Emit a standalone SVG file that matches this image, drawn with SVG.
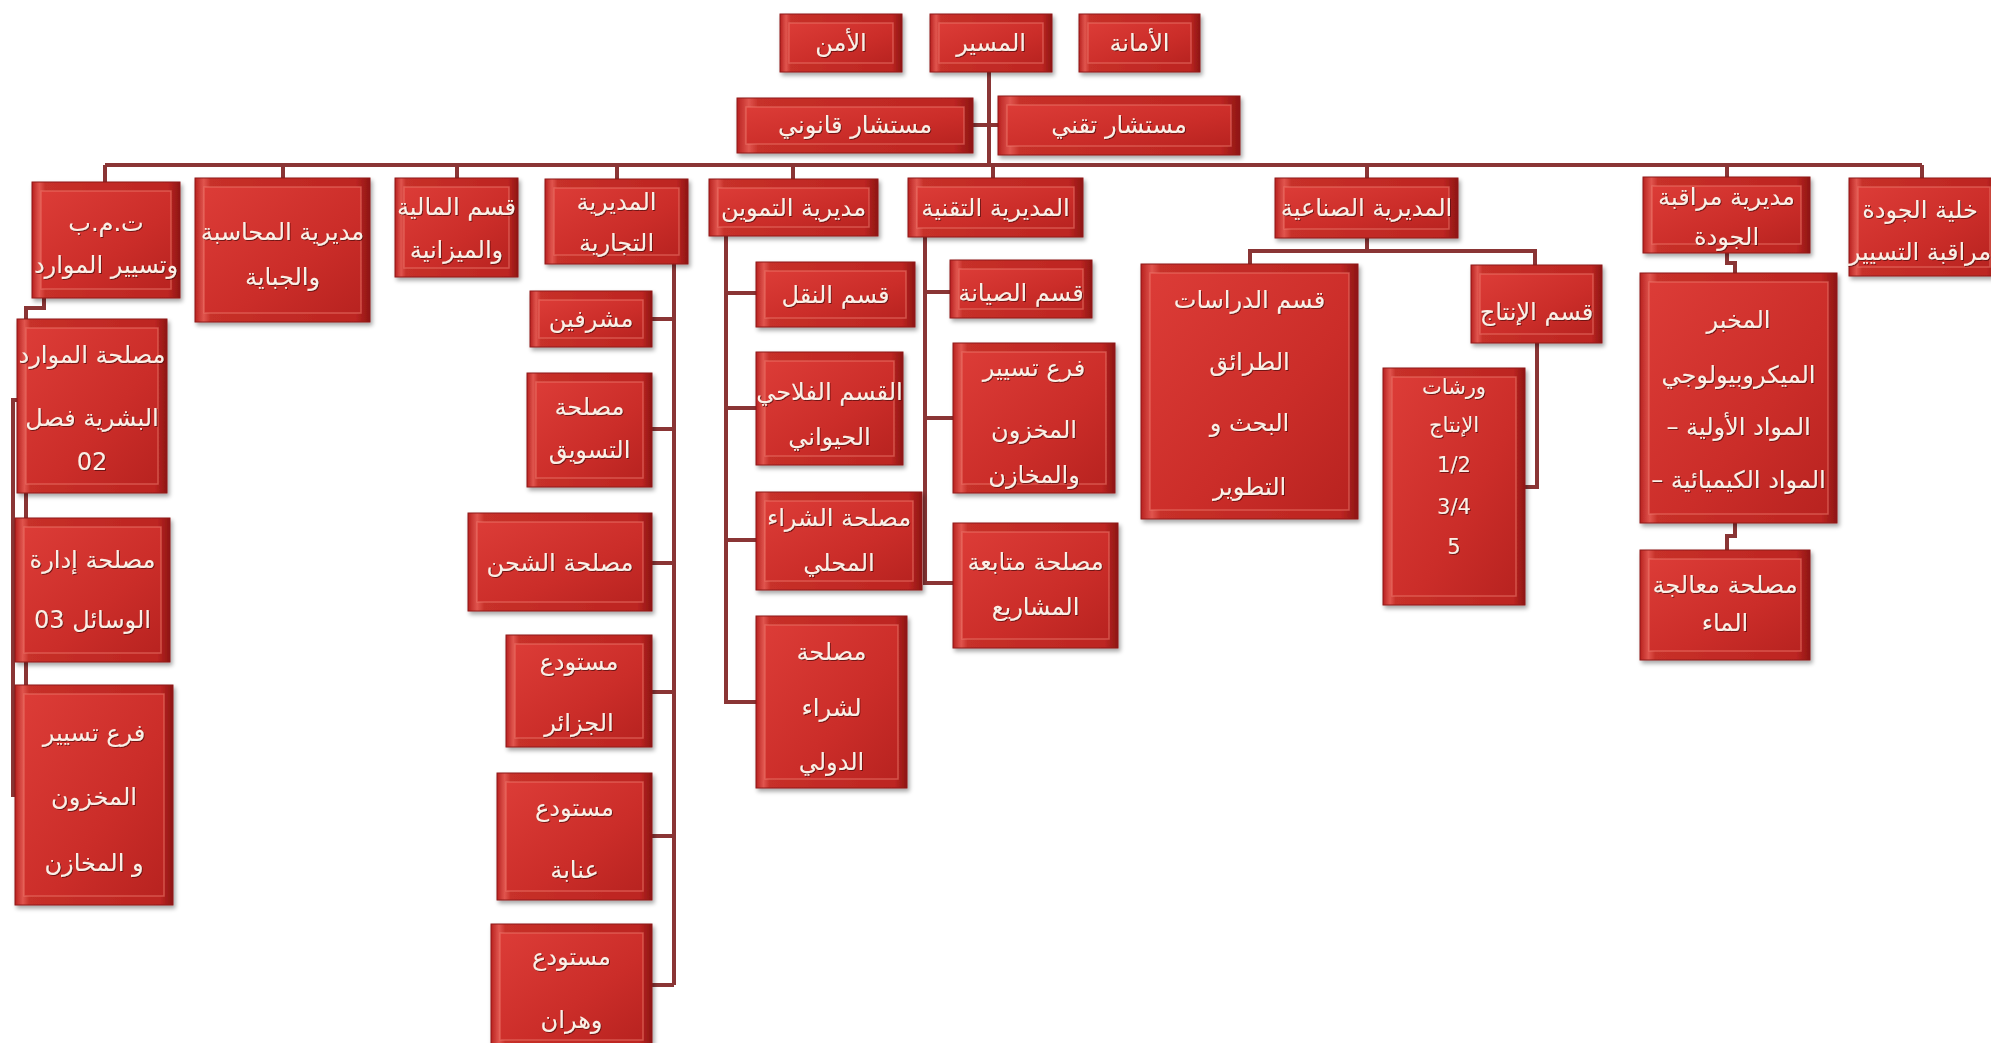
<svg xmlns="http://www.w3.org/2000/svg" width="1991" height="1043" viewBox="0 0 1991 1043">
<defs>
<linearGradient id="gO" x1="0" y1="0" x2="1" y2="0">
<stop offset="0" stop-color="#b8211f"/><stop offset="0.05" stop-color="#e0554e"/><stop offset="0.09" stop-color="#c73029"/><stop offset="0.92" stop-color="#bd2522"/><stop offset="1" stop-color="#8e1614"/>
</linearGradient>
<linearGradient id="gI" x1="0" y1="0" x2="1" y2="1">
<stop offset="0" stop-color="#dc3c37"/><stop offset="0.6" stop-color="#cb2d29"/><stop offset="1" stop-color="#b82320"/>
</linearGradient>
<filter id="sh" x="-10%" y="-10%" width="130%" height="130%">
<feDropShadow dx="2" dy="3" stdDeviation="2" flood-color="#000" flood-opacity="0.35"/>
</filter>
<filter id="ts" x="-5%" y="-20%" width="110%" height="140%">
<feDropShadow dx="1" dy="1" stdDeviation="0.6" flood-color="#5a0a0a" flood-opacity="0.8"/>
</filter>
<style>
.o{fill:url(#gO);stroke:#8e1a18;stroke-width:1;filter:url(#sh)}
.i{fill:url(#gI);stroke:#ec7a70;stroke-width:1.5;stroke-opacity:0.55}
.t{font-family:"DejaVu Sans",sans-serif;font-size:24px;fill:#fbefe6;text-anchor:middle;dominant-baseline:central;filter:url(#ts)}
.s{font-size:21px}
.c{fill:none;stroke:#8a3535;stroke-width:4}
</style>
</defs>
<rect width="1991" height="1043" fill="#ffffff"/>
<g id="connectors">
<path class="c" d="M989,72 V165 M973,125 H998 M105,165 H1922"/>
<path class="c" d="M105,165 V182 M283,165 V178 M457,165 V178 M617,165 V179 M793,165 V179 M993,165 V178 M1367,165 V178 M1727,165 V177 M1922,165 V178"/>
<path class="c" d="M44,298 V308 H26 V690 M26,400 H13 V795 H16 M13,590 H16"/>
<path class="c" d="M674,264 V985 M652,319 H674 M652,429 H674 M652,563 H674 M652,692 H674 M652,836 H674 M652,985 H674"/>
<path class="c" d="M726,236 V702 H756 M726,293 H756 M726,408 H756 M726,540 H756"/>
<path class="c" d="M925,237 V583 H953 M925,292 H950 M925,418 H953"/>
<path class="c" d="M1367,238 V251 M1250,264 V251 H1535 V265 M1537,343 V487 H1525"/>
<path class="c" d="M1727,253 V263 H1735 V273 M1735,523 V536 H1727 V550"/>
</g>
<g id="n-amn"><rect class="o" x="780" y="14" width="122" height="58"/><rect class="i" x="789" y="23" width="104" height="40"/><text class="t" x="841" y="43">الأمن</text></g>
<g id="n-director"><rect class="o" x="930" y="14" width="122" height="58"/><rect class="i" x="939" y="23" width="104" height="40"/><text class="t" x="991" y="43">المسير</text></g>
<g id="n-amana"><rect class="o" x="1079" y="14" width="121" height="58"/><rect class="i" x="1088" y="23" width="103" height="40"/><text class="t" x="1139.5" y="43">الأمانة</text></g>
<g id="n-legal"><rect class="o" x="737" y="98" width="236" height="55"/><rect class="i" x="746" y="107" width="218" height="37"/><text class="t" x="855" y="125">مستشار  قانوني</text></g>
<g id="n-techcons"><rect class="o" x="998" y="96" width="242" height="59"/><rect class="i" x="1007" y="105" width="224" height="41"/><text class="t" x="1119" y="125">مستشار  تقني</text></g>
<g id="n-tmb"><rect class="o" x="32" y="182" width="148" height="116"/><rect class="i" x="41" y="191" width="130" height="98"/><text class="t"><tspan x="106" y="223">ت.م.ب</tspan><tspan x="106" y="265">وتسيير  الموارد</tspan></text></g>
<g id="n-acc"><rect class="o" x="195" y="178" width="175" height="144"/><rect class="i" x="204" y="187" width="157" height="126"/><text class="t"><tspan x="282.5" y="232">مديرية المحاسبة</tspan><tspan x="282.5" y="277">والجباية</tspan></text></g>
<g id="n-fin"><rect class="o" x="395" y="178" width="123" height="99"/><rect class="i" x="404" y="187" width="105" height="81"/><text class="t"><tspan x="456.5" y="207">قسم المالية</tspan><tspan x="456.5" y="250">والميزانية</tspan></text></g>
<g id="n-com"><rect class="o" x="545" y="179" width="143" height="85"/><rect class="i" x="554" y="188" width="125" height="67"/><text class="t"><tspan x="616.5" y="202">المديرية</tspan><tspan x="616.5" y="243">التجارية</tspan></text></g>
<g id="n-sup"><rect class="o" x="709" y="179" width="169" height="57"/><rect class="i" x="718" y="188" width="151" height="39"/><text class="t" x="793.5" y="208">مديرية التموين</text></g>
<g id="n-tech"><rect class="o" x="908" y="178" width="175" height="59"/><rect class="i" x="917" y="187" width="157" height="41"/><text class="t" x="995.5" y="208">المديرية التقنية</text></g>
<g id="n-ind"><rect class="o" x="1275" y="178" width="183" height="60"/><rect class="i" x="1284" y="187" width="165" height="42"/><text class="t" x="1366.5" y="208">المديرية الصناعية</text></g>
<g id="n-qdir"><rect class="o" x="1643" y="177" width="167" height="76"/><rect class="i" x="1652" y="186" width="149" height="58"/><text class="t"><tspan x="1726.5" y="197">مديرية مراقبة</tspan><tspan x="1726.5" y="237">الجودة</tspan></text></g>
<g id="n-qcell"><rect class="o" x="1849" y="178" width="150" height="98"/><rect class="i" x="1858" y="187" width="132" height="80"/><text class="t"><tspan x="1920" y="210">خلية الجودة</tspan><tspan x="1920" y="252">مراقبة التسيير</tspan></text></g>
<g id="n-hr"><rect class="o" x="17" y="319" width="150" height="174"/><rect class="i" x="26" y="328" width="132" height="156"/><text class="t"><tspan x="92" y="355">مصلحة الموارد</tspan><tspan x="92" y="418">البشرية فصل</tspan><tspan x="92" y="462">02</tspan></text></g>
<g id="n-means"><rect class="o" x="15" y="518" width="155" height="144"/><rect class="i" x="24" y="527" width="137" height="126"/><text class="t"><tspan x="92.5" y="560">مصلحة إدارة</tspan><tspan x="92.5" y="620">الوسائل  03</tspan></text></g>
<g id="n-stock1"><rect class="o" x="15" y="685" width="158" height="220"/><rect class="i" x="24" y="694" width="140" height="202"/><text class="t"><tspan x="94" y="733">فرع تسيير</tspan><tspan x="94" y="797">المخزون</tspan><tspan x="94" y="863">و  المخازن</tspan></text></g>
<g id="n-superv"><rect class="o" x="530" y="291" width="122" height="56"/><rect class="i" x="539" y="300" width="104" height="38"/><text class="t" x="591" y="319">مشرفين</text></g>
<g id="n-mkt"><rect class="o" x="527" y="373" width="125" height="114"/><rect class="i" x="536" y="382" width="107" height="96"/><text class="t"><tspan x="589.5" y="407">مصلحة</tspan><tspan x="589.5" y="450">التسويق</tspan></text></g>
<g id="n-ship"><rect class="o" x="468" y="513" width="184" height="98"/><rect class="i" x="477" y="522" width="166" height="80"/><text class="t" x="560" y="563">مصلحة الشحن</text></g>
<g id="n-alg"><rect class="o" x="506" y="635" width="146" height="112"/><rect class="i" x="515" y="644" width="128" height="94"/><text class="t"><tspan x="579" y="662">مستودع</tspan><tspan x="579" y="723">الجزائر</tspan></text></g>
<g id="n-ann"><rect class="o" x="497" y="773" width="155" height="127"/><rect class="i" x="506" y="782" width="137" height="109"/><text class="t"><tspan x="574.5" y="808">مستودع</tspan><tspan x="574.5" y="870">عنابة</tspan></text></g>
<g id="n-oran"><rect class="o" x="491" y="924" width="161" height="120"/><rect class="i" x="500" y="933" width="143" height="107"/><text class="t"><tspan x="571.5" y="957">مستودع</tspan><tspan x="571.5" y="1020">وهران</tspan></text></g>
<g id="n-trans"><rect class="o" x="756" y="262" width="159" height="65"/><rect class="i" x="765" y="271" width="141" height="47"/><text class="t" x="835.5" y="295">قسم النقل</text></g>
<g id="n-agri"><rect class="o" x="756" y="352" width="147" height="113"/><rect class="i" x="765" y="361" width="129" height="95"/><text class="t"><tspan x="829.5" y="392">القسم الفلاحي</tspan><tspan x="829.5" y="437">الحيواني</tspan></text></g>
<g id="n-local"><rect class="o" x="756" y="492" width="166" height="98"/><rect class="i" x="765" y="501" width="148" height="80"/><text class="t"><tspan x="839" y="518">مصلحة الشراء</tspan><tspan x="839" y="563">المحلي</tspan></text></g>
<g id="n-intl"><rect class="o" x="756" y="616" width="151" height="172"/><rect class="i" x="765" y="625" width="133" height="154"/><text class="t"><tspan x="831.5" y="652">مصلحة</tspan><tspan x="831.5" y="708">لشراء</tspan><tspan x="831.5" y="762">الدولي</tspan></text></g>
<g id="n-maint"><rect class="o" x="950" y="260" width="142" height="58"/><rect class="i" x="959" y="269" width="124" height="40"/><text class="t" x="1021" y="293">قسم الصيانة</text></g>
<g id="n-stock2"><rect class="o" x="953" y="343" width="162" height="150"/><rect class="i" x="962" y="352" width="144" height="132"/><text class="t"><tspan x="1034" y="368">فرع تسيير</tspan><tspan x="1034" y="430">المخزون</tspan><tspan x="1034" y="475">والمخازن</tspan></text></g>
<g id="n-proj"><rect class="o" x="953" y="523" width="165" height="125"/><rect class="i" x="962" y="532" width="147" height="107"/><text class="t"><tspan x="1035.5" y="562">مصلحة متابعة</tspan><tspan x="1035.5" y="607">المشاريع</tspan></text></g>
<g id="n-studies"><rect class="o" x="1141" y="264" width="217" height="255"/><rect class="i" x="1150" y="273" width="199" height="237"/><text class="t"><tspan x="1249.5" y="300">قسم الدراسات</tspan><tspan x="1249.5" y="362">الطرائق</tspan><tspan x="1249.5" y="423">البحث و</tspan><tspan x="1249.5" y="487">التطوير</tspan></text></g>
<g id="n-prod"><rect class="o" x="1471" y="265" width="131" height="78"/><rect class="i" x="1480" y="274" width="113" height="60"/><text class="t" x="1536.5" y="312">قسم الإنتاج</text></g>
<g id="n-work"><rect class="o" x="1383" y="368" width="142" height="237"/><rect class="i" x="1392" y="377" width="124" height="219"/><text class="t s"><tspan x="1454" y="387">ورشات</tspan><tspan x="1454" y="425">الإنتاج</tspan><tspan x="1454" y="465">1/2</tspan><tspan x="1454" y="507">3/4</tspan><tspan x="1454" y="547">5</tspan></text></g>
<g id="n-lab"><rect class="o" x="1640" y="273" width="197" height="250"/><rect class="i" x="1649" y="282" width="179" height="232"/><text class="t"><tspan x="1738.5" y="320">المخبر</tspan><tspan x="1738.5" y="375">الميكروبيولوجي</tspan><tspan x="1738.5" y="427">– المواد الأولية</tspan><tspan x="1738.5" y="480">– المواد الكيميائية</tspan></text></g>
<g id="n-water"><rect class="o" x="1640" y="550" width="170" height="110"/><rect class="i" x="1649" y="559" width="152" height="92"/><text class="t"><tspan x="1725" y="585">مصلحة معالجة</tspan><tspan x="1725" y="623">الماء</tspan></text></g>
</svg>
